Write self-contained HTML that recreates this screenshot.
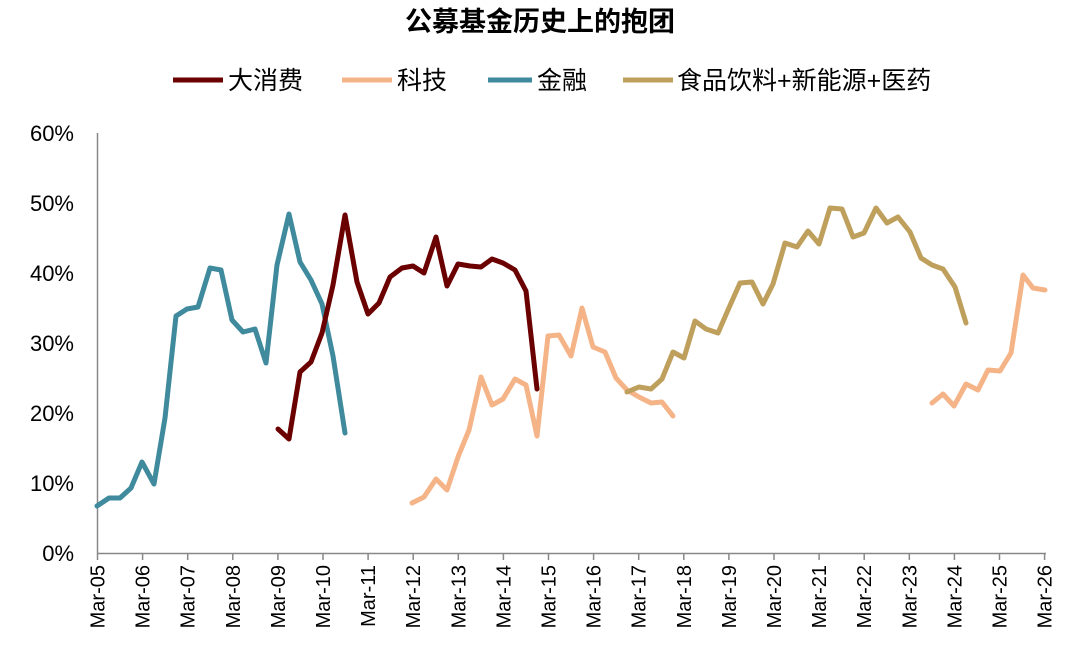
<!DOCTYPE html>
<html><head><meta charset="utf-8"><style>
body{margin:0;background:#fff;}
svg text{font-family:"Liberation Sans","Noto Sans CJK SC",sans-serif;}
</style></head><body>
<svg width="1080" height="663" viewBox="0 0 1080 663" xmlns="http://www.w3.org/2000/svg">
<text x="540" y="31" text-anchor="middle" font-size="27" font-weight="bold" fill="#000">公募基金历史上的抱团</text>
<g font-size="25" fill="#000">
<line x1="173" y1="80" x2="223" y2="80" stroke="#6b0000" stroke-width="5"/><text x="228" y="89">大消费</text>
<line x1="342" y1="80" x2="392" y2="80" stroke="#f5b487" stroke-width="5"/><text x="397" y="89">科技</text>
<line x1="488" y1="80" x2="532" y2="80" stroke="#3f8a9c" stroke-width="5"/><text x="537" y="89">金融</text>
<line x1="623" y1="80" x2="673" y2="80" stroke="#bf9f5c" stroke-width="5"/><text x="677" y="89">食品饮料+新能源+医药</text>
</g>
<g font-size="22" fill="#000" text-anchor="end">
<text x="74" y="561">0%</text><text x="74" y="491">10%</text><text x="74" y="421">20%</text><text x="74" y="351">30%</text><text x="74" y="281">40%</text><text x="74" y="211">50%</text><text x="74" y="141">60%</text>
</g>
<line x1="97.5" y1="133" x2="97.5" y2="553" stroke="#888" stroke-width="1.5"/>
<line x1="97" y1="553.5" x2="1046" y2="553.5" stroke="#888" stroke-width="1.5"/>
<g stroke="#888" stroke-width="1.5" id="ticks"></g>
<g font-size="20" fill="#000" id="xl"></g>
<g fill="none" stroke-width="5" stroke-linejoin="round" stroke-linecap="round">
<polyline stroke="#3f8a9c" points="97,506 109,498 120,498 131,488 142,462 154,484 165,418 176,316 187,309 198,307 210,268 221,270 232,320 243,332 255,329 266,363 277,265 289,214 300,262 311,280 322,304 333,356 345,433"/>
<polyline stroke="#6b0000" points="278,429 289,439 300,372 311,362 322,333 333,285 345,215 357,282 368,314 379,303 390,277 402,268 413,266 424,273 436,237 447,286 458,264 470,266 481,267 492,259 503,263 515,270 526,291 537,389"/>
<polyline stroke="#f5b487" points="412,503 424,497 436,479 447,490 458,457 469,430 481,377 492,405 503,399 515,379 526,385 537,436 548,336 559,335 571,356 582,308 593,347 605,352 616,378 627,390 639,397 651,403 662,402 673,416"/>
<polyline stroke="#f5b487" points="932,403 943,394 954,406 966,384 978,390 988,370 1000,371 1011,353 1023,275 1033,288 1045,290"/>
<polyline stroke="#bf9f5c" points="627,392 639,387 651,389 662,379 673,352 684,358 695,321 706,329 718,333 728,310 740,283 752,282 763,304 773,284 785,243 797,247 808,231 819,244 830,208 842,209 853,237 864,233 876,208 887,223 898,217 910,232 921,258 932,265 943,269 955,287 966,323"/>
</g>
</svg>
<script>
var t=document.getElementById('ticks'),xl=document.getElementById('xl'),ns="http://www.w3.org/2000/svg";
for(var i=0;i<=21;i++){var x=97.5+i*45.1;
var l=document.createElementNS(ns,'line');l.setAttribute('x1',x);l.setAttribute('x2',x);l.setAttribute('y1',553);l.setAttribute('y2',560);t.appendChild(l);
var tx=document.createElementNS(ns,'text');var yy=(5+i)%100;tx.textContent='Mar-'+(yy<10?'0':'')+yy;
tx.setAttribute('transform','translate('+(x+7)+',565) rotate(-90)');tx.setAttribute('text-anchor','end');xl.appendChild(tx);}
</script>
</body></html>
